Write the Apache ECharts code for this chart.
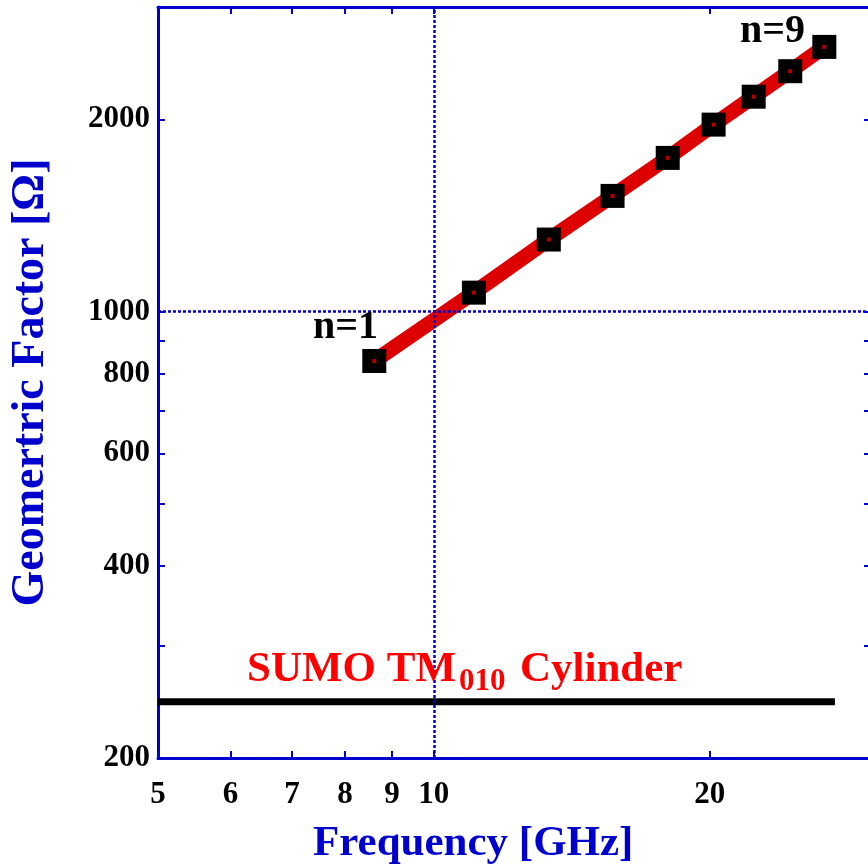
<!DOCTYPE html>
<html>
<head>
<meta charset="utf-8">
<script src="https://cdn.jsdelivr.net/npm/echarts@6/dist/echarts.min.js"></script>
<style>
  html, body { margin: 0; padding: 0; background: #fff; }
  #chart-show { width: 868px; height: 868px; }
</style>
</head>
<body>
<div id="chart-show"></div>
<script>
// mode number n = 1..9
var modeN = [1, 2, 3, 4, 5, 6, 7, 8, 9];
// frequency [GHz]
var freqGHz = [8.61, 11.06, 13.35, 15.67, 18.0, 20.2, 22.34, 24.49, 26.68];
// geometric factor [Ohm]
var geoFactor = [837, 1071, 1297, 1518, 1741, 1963, 2171, 2380, 2598];
// black reference bar
var barX = [5, 27.4];
var barY = [245, 245];

var xLabelTicks = [5, 6, 7, 8, 9, 10, 20];
var xMinorTicks = [6, 7, 8, 9, 10, 20];
var yLabelTicks = [200, 400, 600, 800, 1000, 2000];
var yMinorTicks = [300, 400, 500, 600, 700, 800, 900, 1000, 2000];

window.onload = all;
function all(){
    myChart();
}
function myChart(){
    var chart = echarts.init(document.getElementById('chart-show'));
    var blue = '#0000cc';
    var serif = 'Liberation Serif';

    var pts = [];
    for (var i = 0; i < freqGHz.length; i++) {
        pts.push([freqGHz[i], geoFactor[i]]);
    }
    var bar = [];
    for (var j = 0; j < barX.length; j++) {
        bar.push([barX[j], barY[j]]);
    }

    function plain(v) { return String(Math.round(v)); }

    function xAx(pos, withLabel) {
        return {
            type: 'log', min: 5, max: 30, position: pos, gridIndex: 0,
            axisLine: { show: true, lineStyle: { color: blue, width: 3 } },
            axisTick: { show: true, inside: true, length: 7, customValues: xMinorTicks, lineStyle: { color: blue, width: 2 } },
            axisLabel: { show: withLabel, customValues: xLabelTicks, margin: 21, color: '#000', formatter: plain,
                fontFamily: serif, fontWeight: 'bold', fontSize: 31 },
            splitLine: { show: false }, minorTick: { show: false }
        };
    }
    function yAx(pos, withLabel) {
        return {
            type: 'log', min: 200, max: 3000, position: pos, gridIndex: 0,
            name: withLabel ? 'Geomertric Factor [\u03A9]' : '',
            nameLocation: 'middle', nameGap: 104,
            nameTextStyle: { color: blue, fontFamily: serif, fontWeight: 'bold', fontSize: 46 },
            axisLine: { show: true, lineStyle: { color: blue, width: 3 } },
            axisTick: { show: true, inside: true, length: 7, customValues: yMinorTicks, lineStyle: { color: blue, width: 2 } },
            axisLabel: { show: withLabel, customValues: yLabelTicks, margin: 8, color: '#000', formatter: plain,
                fontFamily: serif, fontWeight: 'bold', fontSize: 31 },
            splitLine: { show: false }, minorTick: { show: false }
        };
    }

    var option = {
        animation: false,
        backgroundColor: '#fff',
        grid: { left: 158, right: -3, top: 7, bottom: 110, containLabel: false, outerBoundsMode: 'none' },
        xAxis: [xAx('bottom', true), xAx('top', false)],
        yAxis: [yAx('left', true), yAx('right', false)],
        series: [
            {
                // dotted guides at 10 GHz and 1000 Ohm
                type: 'line', data: [], silent: true,
                markLine: {
                    symbol: 'none', silent: true, label: { show: false },
                    lineStyle: { color: blue, width: 2.5, type: [3, 2] },
                    data: [{ xAxis: 10 }, { yAxis: 1000 }]
                }
            },
            {
                type: 'line', data: bar, symbol: 'none',
                lineStyle: { color: '#000', width: 7 }, z: 3
            },
            {
                type: 'line', data: pts, symbol: 'rect', symbolSize: 24,
                itemStyle: { color: '#000' },
                lineStyle: { color: '#dd0000', width: 15 }, z: 4
            },
            {
                type: 'scatter', data: pts, symbol: 'rect', symbolSize: 4,
                itemStyle: { color: '#dd0000' }, z: 5
            }
        ],
        graphic: [
            { type: 'text', left: 313, top: 822, z: 10,
              style: { text: 'Frequency [GHz]', fill: blue, font: 'bold 43px "Liberation Serif"' } },
            { type: 'text', left: 313, top: 308, z: 10,
              style: { text: 'n=' + modeN[0], fill: '#000', font: 'bold 40px "Liberation Serif"' } },
            { type: 'text', left: 740, top: 12, z: 10,
              style: { text: 'n=' + modeN[modeN.length - 1], fill: '#000', font: 'bold 40px "Liberation Serif"' } },
            { type: 'text', left: 247, top: 648, z: 10,
              style: { text: 'SUMO TM', fill: '#ff0000', font: 'bold 43px "Liberation Serif"' } },
            { type: 'text', left: 459, top: 666, z: 10,
              style: { text: '010', fill: '#ff0000', font: 'bold 31px "Liberation Serif"' } },
            { type: 'text', left: 520, top: 648, z: 10,
              style: { text: 'Cylinder', fill: '#ff0000', font: 'bold 43px "Liberation Serif"' } }
        ]
    };
    chart.setOption(option);
    setTimeout(function (){
        window.onresize = function () {
            chart.resize();
        };
    }, 200);
}
</script>
</body>
</html>
